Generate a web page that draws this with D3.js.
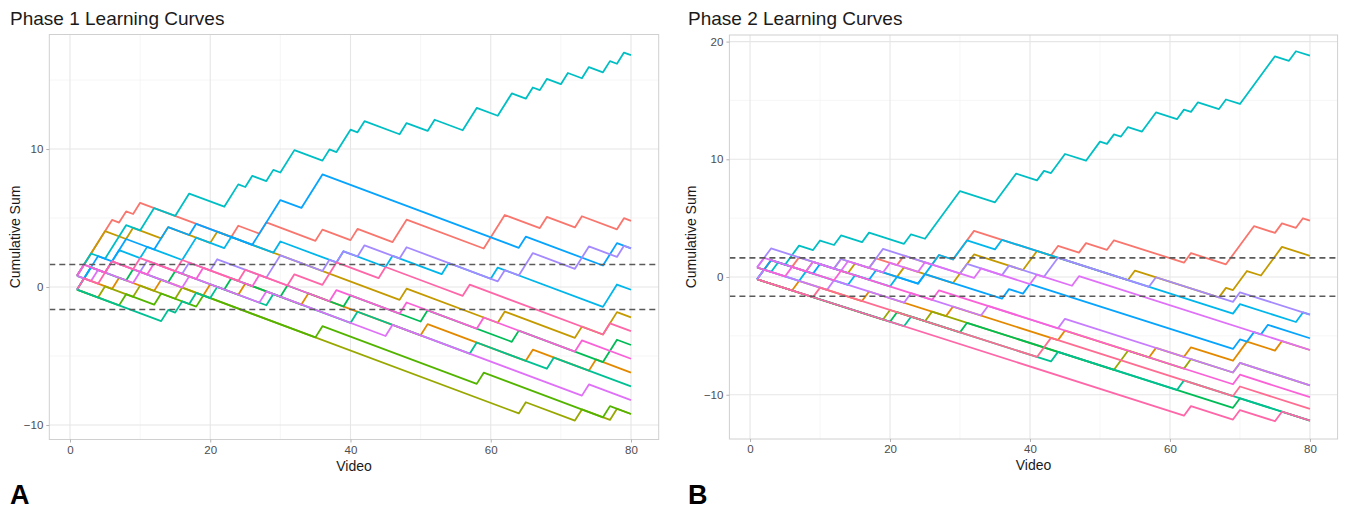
<!DOCTYPE html>
<html>
<head>
<meta charset="utf-8">
<script src="https://cdn.jsdelivr.net/npm/d3@7"></script>
<style>
  body { margin: 0; background: #fff; }
  svg { font-family: "Liberation Sans", Arial, sans-serif; }
</style>
</head>
<body>
<div id="viz"></div>
<script>
// tick labels and limits
const xTicks = [0, 20, 40, 60, 80];
const xMinor = [10, 30, 50, 70];
const yTicksA = [-10, 0, 10];
const yTicksB = [-10, 0, 10, 20];
const yMinor = [-5, 5, 15];
const limitLines = [1.63, -1.63];

// Phase 1 curves: [video, cumulative sum] at each turning point
const p1Red = [[1,0.81],[6,4.86],[7,4.67],[8,5.48],[9,5.29],[10,6.1],[23,3.63],[24,4.44],[27,3.87],[28,4.68],[35,3.35],[36,4.16],[40,3.4],[41,4.21],[46,3.26],[48,4.88],[59,2.79],[62,5.22],[67,4.27],[68,5.08],[72,4.32],[73,5.13],[78,4.18],[79,4.99],[80,4.8]];
const p1Orange = [[1,-0.19],[2,0.62],[6,-0.14],[7,0.67],[12,-0.28],[13,0.53],[19,-0.61],[20,0.2],[24,-0.56],[25,0.25],[33,-1.27],[34,-0.46],[50,-3.5],[51,-2.69],[65,-5.35],[66,-4.54],[74,-6.06],[75,-5.25],[80,-6.2]];
const p1Gold = [[1,0.81],[5,4.05],[8,3.48],[9,4.29],[13,3.53],[14,4.34],[20,3.2],[21,4.01],[47,-0.93],[48,-0.12],[61,-2.59],[62,-1.78],[72,-3.68],[73,-2.87],[76,-3.44],[78,-1.82],[80,-2.2]];
const p1Olive = [[1,-0.19],[4,-0.76],[5,0.05],[9,-0.71],[10,0.1],[15,-0.85],[16,-0.04],[64,-9.16],[65,-8.35],[72,-9.68],[73,-8.87],[77,-9.63],[78,-8.82],[80,-9.2]];
const p1Green = [[1,-0.19],[7,-1.33],[8,-0.52],[12,-1.28],[13,-0.47],[18,-1.42],[19,-0.61],[35,-3.65],[36,-2.84],[58,-7.02],[59,-6.21],[76,-9.44],[77,-8.63],[80,-9.2]];
const p1Green2 = [[1,0.81],[2,0.62],[3,1.43],[8,0.48],[9,1.29],[14,0.34],[15,1.15],[22,-0.18],[23,0.63],[30,-0.7],[31,0.11],[39,-1.41],[40,-0.6],[50,-2.5],[51,-1.69],[63,-3.97],[64,-3.16],[76,-5.44],[78,-3.82],[80,-4.2]];
const p1Teal = [[1,-0.19],[13,-2.47],[14,-1.66],[15,-1.85],[16,-1.04],[17,-1.23],[18,-0.42],[20,-0.8],[21,0.01],[28,-1.32],[29,-0.51],[40,-2.6],[41,-1.79],[57,-4.83],[58,-4.02],[68,-5.92],[69,-5.11],[80,-7.2]];
const p1Cyan = [[1,0.81],[3,2.43],[5,2.05],[8,4.48],[10,4.1],[12,5.72],[15,5.15],[17,6.77],[22,5.82],[24,7.44],[25,7.25],[26,8.06],[28,7.68],[29,8.49],[30,8.3],[32,9.92],[36,9.16],[37,9.97],[38,9.78],[40,11.4],[41,11.21],[42,12.02],[47,11.07],[48,11.88],[51,11.31],[52,12.12],[56,11.36],[58,12.98],[61,12.41],[63,14.03],[65,13.65],[66,14.46],[67,14.27],[68,15.08],[70,14.7],[71,15.51],[73,15.13],[74,15.94],[76,15.56],[77,16.37],[78,16.18],[79,16.99],[80,16.8]];
const p1Sky = [[1,-0.19],[3,1.43],[5,1.05],[7,2.67],[10,2.1],[11,2.91],[16,1.96],[18,3.58],[22,2.82],[23,3.63],[29,2.49],[30,3.3],[38,1.78],[39,2.59],[45,1.45],[46,2.26],[53,0.93],[54,1.74],[60,0.6],[61,1.41],[76,-1.44],[78,0.18],[80,-0.2]];
const p1Blue = [[1,-0.19],[4,2.24],[6,1.86],[8,3.48],[12,2.72],[14,4.34],[17,3.77],[18,4.58],[26,3.06],[27,3.87],[30,6.3],[33,5.73],[36,8.16],[64,2.84],[65,3.65],[76,1.56],[78,3.18],[80,2.8]];
const p1Lavender = [[1,0.81],[2,1.62],[5,1.05],[6,1.86],[10,1.1],[11,1.91],[16,0.96],[17,1.77],[20,1.2],[21,2.01],[28,0.68],[30,2.3],[36,1.16],[37,1.97],[38,1.78],[39,2.59],[41,2.21],[42,3.02],[47,2.07],[48,2.88],[61,0.41],[62,1.22],[64,0.84],[66,2.46],[72,1.32],[74,2.94],[78,2.18],[79,2.99],[80,2.8]];
const p1Violet = [[1,0.81],[3,0.43],[4,1.24],[9,0.29],[10,1.1],[16,-0.04],[17,0.77],[27,-1.13],[28,-0.32],[45,-3.55],[46,-2.74],[73,-7.87],[74,-7.06],[80,-8.2]];
const p1Magenta = [[1,0.81],[2,1.62],[5,1.05],[6,1.86],[11,0.91],[12,1.72],[18,0.58],[19,1.39],[26,0.06],[27,0.87],[37,-1.03],[38,-0.22],[47,-1.93],[48,-1.12],[58,-3.02],[59,-2.21],[72,-4.68],[73,-3.87],[80,-5.2]];
const p1Pink = [[1,-0.19],[2,0.62],[4,0.24],[6,1.86],[9,1.29],[10,2.1],[15,1.15],[16,1.96],[24,0.44],[25,1.25],[31,0.11],[32,0.92],[36,0.16],[38,1.78],[44,0.64],[45,1.45],[53,-0.07],[56,-0.64],[57,0.17],[76,-3.44],[77,-2.63],[80,-3.2]];

// Phase 2 curves
const p2Red = [[1,-0.19],[3,1.43],[6,0.86],[7,1.67],[12,0.72],[13,1.53],[17,0.77],[18,1.58],[21,1.01],[22,1.82],[26,1.06],[27,1.87],[29,1.49],[32,3.92],[43,1.83],[44,2.64],[47,2.07],[48,2.88],[51,2.31],[52,3.12],[62,1.22],[63,2.03],[68,1.08],[72,4.32],[75,3.75],[76,4.56],[78,4.18],[79,4.99],[80,4.8]];
const p2Orange = [[1,-0.19],[6,-1.14],[7,-0.33],[16,-2.04],[17,-1.23],[28,-3.32],[29,-2.51],[44,-5.36],[45,-4.55],[57,-6.83],[58,-6.02],[62,-6.78],[63,-5.97],[69,-7.11],[71,-5.49],[75,-6.25],[76,-5.44],[80,-6.2]];
const p2Gold = [[1,0.81],[2,0.62],[3,1.43],[8,0.48],[9,1.29],[14,0.34],[15,1.15],[21,0.01],[22,0.82],[29,-0.51],[32,1.92],[39,0.59],[41,2.21],[54,-0.26],[55,0.55],[67,-1.73],[68,-0.92],[69,-1.11],[71,0.51],[73,0.13],[76,2.56],[80,1.8]];
const p2Olive = [[1,-0.19],[19,-3.61],[20,-2.8],[25,-3.75],[26,-2.94],[52,-7.88],[54,-6.26],[62,-7.78],[63,-6.97],[69,-8.11],[70,-7.3],[80,-9.2]];
const p2Green = [[1,-0.19],[20,-3.8],[21,-2.99],[30,-4.7],[31,-3.89],[69,-11.11],[70,-10.3],[80,-12.2]];
const p2Teal = [[1,-0.19],[22,-4.18],[23,-3.37],[43,-7.17],[44,-6.36],[61,-9.59],[62,-8.78],[80,-12.2]];
const p2Cyan = [[1,0.81],[3,0.43],[4,1.24],[5,1.05],[7,2.67],[9,2.29],[10,3.1],[12,2.72],[13,3.53],[16,2.96],[17,3.77],[22,2.82],[23,3.63],[25,3.25],[30,7.3],[35,6.35],[38,8.78],[41,8.21],[42,9.02],[43,8.83],[45,10.45],[48,9.88],[50,11.5],[51,11.31],[52,12.12],[53,11.93],[54,12.74],[56,12.36],[58,13.98],[61,13.41],[62,14.22],[63,14.03],[64,14.84],[67,14.27],[68,15.08],[70,14.7],[75,18.75],[77,18.37],[78,19.18],[80,18.8]];
const p2Sky = [[1,-0.19],[2,0.62],[7,-0.33],[8,0.48],[14,-0.66],[15,0.15],[20,-0.8],[21,0.01],[24,-0.56],[27,1.87],[29,1.49],[31,3.11],[35,2.35],[36,3.16],[69,-3.11],[70,-2.3],[78,-3.82],[79,-3.01],[80,-3.2]];
const p2Blue = [[1,-0.19],[3,1.43],[9,0.29],[10,1.1],[17,-0.23],[18,0.58],[24,-0.56],[25,0.25],[36,-1.84],[37,-1.03],[39,-1.41],[40,-0.6],[69,-6.11],[70,-5.3],[71,-5.49],[72,-4.68],[73,-4.87],[74,-4.06],[80,-5.2]];
const p2Lavender = [[1,0.81],[3,2.43],[12,0.72],[13,1.53],[17,0.77],[19,2.39],[30,0.3],[31,1.11],[36,0.16],[37,0.97],[42,0.02],[44,1.64],[57,-0.83],[58,-0.02],[69,-2.11],[70,-1.3],[80,-3.2]];
const p2Purple = [[1,-0.19],[2,0.62],[11,-1.09],[12,-0.28],[22,-2.18],[23,-1.37],[33,-3.27],[34,-2.46],[44,-4.36],[45,-3.55],[69,-8.11],[70,-7.3],[80,-9.2]];
const p2Violet = [[1,0.81],[2,1.62],[8,0.48],[9,1.29],[13,0.53],[14,1.34],[19,0.39],[20,1.2],[24,0.44],[25,1.25],[32,-0.08],[33,0.73],[40,-0.6],[41,0.21],[46,-0.74],[47,0.07],[80,-6.2]];
const p2Magenta = [[1,0.81],[5,0.05],[6,0.86],[12,-0.28],[13,0.53],[26,-1.94],[27,-1.13],[69,-9.11],[70,-8.3],[80,-10.2]];
const p2RedPink = [[1,-0.19],[9,-1.71],[10,-0.9],[41,-6.79],[43,-5.17],[69,-10.11],[70,-9.3],[80,-11.2]];
const p2Pink = [[1,-0.19],[62,-11.78],[63,-10.97],[69,-12.11],[70,-11.3],[75,-12.25],[76,-11.44],[80,-12.2]];

const phase1 = [
  [p1Red, '#F8766D'], [p1Orange, '#E38900'], [p1Gold, '#C49A00'], [p1Olive, '#99A800'],
  [p1Green, '#53B400'], [p1Green2, '#00BC56'], [p1Teal, '#00C094'], [p1Cyan, '#00BFC4'],
  [p1Sky, '#00B6EB'], [p1Blue, '#06A4FF'], [p1Lavender, '#A58AFF'], [p1Violet, '#DF70F8'],
  [p1Magenta, '#FB61D7'], [p1Pink, '#FF66A8']
];
const phase2 = [
  [p2Red, '#F8766D'], [p2Orange, '#E38900'], [p2Gold, '#C49A00'], [p2Olive, '#99A800'],
  [p2Green, '#00BC56'], [p2Teal, '#00C094'], [p2Cyan, '#00BFC4'], [p2Sky, '#00B6EB'],
  [p2Blue, '#06A4FF'], [p2Lavender, '#A58AFF'], [p2Purple, '#C77CFF'], [p2Violet, '#DF70F8'],
  [p2Magenta, '#FB61D7'], [p2RedPink, '#FF6C91'], [p2Pink, '#FF66A8']
];

const svg = d3.select('#viz').append('svg')
  .attr('width', 1345)
  .attr('height', 510);

function drawPanel(cfg) {
  const x = d3.scaleLinear().domain([-2.95, 83.95]).range([cfg.left, cfg.right]);
  const y = d3.scaleLinear().domain(cfg.yDomain).range([cfg.bottom, cfg.top]);
  const g = svg.append('g');

  // grid
  g.selectAll('.xminor').data(xMinor).enter().append('line')
    .attr('x1', d => x(d)).attr('x2', d => x(d))
    .attr('y1', cfg.top).attr('y2', cfg.bottom)
    .attr('stroke', '#f2f2f2').attr('stroke-width', 0.7);
  g.selectAll('.yminor').data(yMinor).enter().append('line')
    .attr('x1', cfg.left).attr('x2', cfg.right)
    .attr('y1', d => y(d)).attr('y2', d => y(d))
    .attr('stroke', '#f2f2f2').attr('stroke-width', 0.7);
  g.selectAll('.xmajor').data(xTicks).enter().append('line')
    .attr('x1', d => x(d)).attr('x2', d => x(d))
    .attr('y1', cfg.top).attr('y2', cfg.bottom)
    .attr('stroke', '#e6e6e6').attr('stroke-width', 1.1);
  g.selectAll('.ymajor').data(cfg.yTicks).enter().append('line')
    .attr('x1', cfg.left).attr('x2', cfg.right)
    .attr('y1', d => y(d)).attr('y2', d => y(d))
    .attr('stroke', '#e6e6e6').attr('stroke-width', 1.1);

  // curves
  const line = d3.line().x(d => x(d[0])).y(d => y(d[1]));
  g.selectAll('.curve').data(cfg.series).enter().append('path')
    .attr('d', d => line(d[0]))
    .attr('fill', 'none')
    .attr('stroke', d => d[1])
    .attr('stroke-width', 1.8)
    .attr('stroke-linejoin', 'round');

  // decision limits
  g.selectAll('.limit').data(limitLines).enter().append('line')
    .attr('x1', cfg.left).attr('x2', cfg.right)
    .attr('y1', d => y(d)).attr('y2', d => y(d))
    .attr('stroke', '#5a5a5a').attr('stroke-width', 1.6)
    .attr('stroke-dasharray', '6,4');

  // panel border
  g.append('rect')
    .attr('x', cfg.left).attr('y', cfg.top)
    .attr('width', cfg.right - cfg.left).attr('height', cfg.bottom - cfg.top)
    .attr('fill', 'none').attr('stroke', '#d0d0d0').attr('stroke-width', 1);

  // axes
  const xAxis = g.append('g').attr('transform', `translate(0,${cfg.bottom})`)
    .call(d3.axisBottom(x).tickValues(xTicks).tickSize(3).tickPadding(3));
  const yAxis = g.append('g').attr('transform', `translate(${cfg.left},0)`)
    .call(d3.axisLeft(y).tickValues(cfg.yTicks).tickSize(3).tickPadding(3));
  [xAxis, yAxis].forEach(a => {
    a.select('.domain').remove();
    a.selectAll('line').attr('stroke', '#b3b3b3');
    a.selectAll('text').attr('fill', '#4d4d4d')
      .style('font-size', '11.5px').style('font-family', '"Liberation Sans", Arial, sans-serif');
  });

  // titles
  g.append('text').attr('x', cfg.titleX).attr('y', 25)
    .attr('fill', '#1a1a1a').style('font-size', '19px')
    .text(cfg.title);
  g.append('text').attr('x', (cfg.left + cfg.right) / 2).attr('y', cfg.bottom + 31)
    .attr('text-anchor', 'middle').attr('fill', '#1a1a1a').style('font-size', '14px')
    .text('Video');
  g.append('text')
    .attr('transform', `translate(${cfg.ylabX},${(cfg.top + cfg.bottom) / 2}) rotate(-90)`)
    .attr('text-anchor', 'middle').attr('fill', '#1a1a1a').style('font-size', '14px')
    .text('Cumulative Sum');
  g.append('text').attr('x', cfg.titleX).attr('y', 504)
    .attr('fill', '#000').style('font-size', '27px').style('font-weight', 'bold')
    .text(cfg.tag);
}

drawPanel({
  left: 49.3, right: 658.7, top: 34.5, bottom: 439.5,
  yDomain: [-11.05, 18.3], yTicks: yTicksA,
  series: phase1, title: 'Phase 1 Learning Curves', titleX: 10, ylabX: 20, tag: 'A'
});
drawPanel({
  left: 729.4, right: 1337.6, top: 35, bottom: 439,
  yDomain: [-13.76, 20.56], yTicks: yTicksB,
  series: phase2, title: 'Phase 2 Learning Curves', titleX: 688, ylabX: 696, tag: 'B'
});
</script>
</body>
</html>
